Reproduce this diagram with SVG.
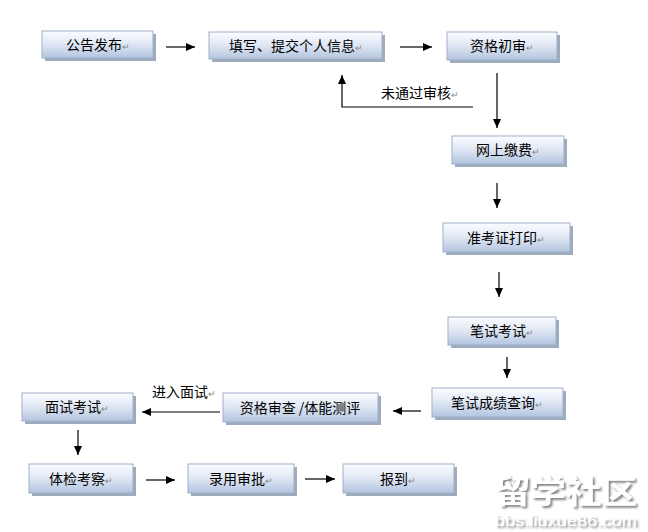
<svg xmlns="http://www.w3.org/2000/svg" width="648" height="532" viewBox="0 0 648 532">
<defs>
<linearGradient id="g" x1="0" y1="0" x2="0" y2="1">
<stop offset="0" stop-color="#fbfcfe"/>
<stop offset="0.45" stop-color="#e2e9f5"/>
<stop offset="1" stop-color="#b3c4df"/>
</linearGradient>
<marker id="ah" markerUnits="userSpaceOnUse" markerWidth="10" markerHeight="8" refX="9" refY="4" orient="auto">
<path d="M0,0 L9,4 L0,8 Z" fill="#000"/>
</marker>
<filter id="ws" x="-10%" y="-20%" width="130%" height="150%">
<feDropShadow dx="2" dy="2" stdDeviation="1.2" flood-color="#666" flood-opacity="0.8"/>
</filter>
</defs>
<style>
.sh{fill:#9eabbd}
.bx{fill:url(#g);stroke:#9fb0c9;stroke-width:1}
.t{font-family:"Noto Sans CJK SC","Liberation Sans",sans-serif;font-size:14px;fill:#000;text-anchor:middle}
.l{font-family:"Noto Sans CJK SC","Liberation Sans",sans-serif;font-size:14px;fill:#000}
.m{font-size:9px;fill:#888}
.c{fill:none;stroke:#000;stroke-width:1.2}
.w{fill:#fff;filter:url(#ws)}
</style>
<rect width="648" height="532" fill="#fff"/>

<g id="n1"><rect class="sh" x="45" y="34" width="111" height="27"/><rect class="bx" x="42" y="31" width="111" height="27"/><text class="t" x="98" y="50">公告发布<tspan class="m">↵</tspan></text></g>
<g id="n2"><rect class="sh" x="212" y="35" width="173" height="27"/><rect class="bx" x="209" y="32" width="173" height="27"/><text class="t" x="296" y="51">填写、提交个人信息<tspan class="m">↵</tspan></text></g>
<g id="n3"><rect class="sh" x="450" y="35" width="110" height="28"/><rect class="bx" x="447" y="32" width="110" height="28"/><text class="t" x="502" y="51">资格初审<tspan class="m">↵</tspan></text></g>
<g id="n4"><rect class="sh" x="455" y="139" width="112" height="28"/><rect class="bx" x="452" y="136" width="112" height="28"/><text class="t" x="508" y="155">网上缴费<tspan class="m">↵</tspan></text></g>
<g id="n5"><rect class="sh" x="446" y="226" width="127" height="29"/><rect class="bx" x="443" y="223" width="127" height="29"/><text class="t" x="506" y="243">准考证打印<tspan class="m">↵</tspan></text></g>
<g id="n6"><rect class="sh" x="451" y="320" width="108" height="28"/><rect class="bx" x="448" y="317" width="108" height="28"/><text class="t" x="502" y="336">笔试考试<tspan class="m">↵</tspan></text></g>
<g id="n7"><rect class="sh" x="435" y="391" width="131" height="29"/><rect class="bx" x="432" y="388" width="131" height="29"/><text class="t" x="497" y="408">笔试成绩查询<tspan class="m">↵</tspan></text></g>
<g id="n8"><rect class="sh" x="226" y="396" width="155" height="29"/><rect class="bx" x="223" y="393" width="155" height="29"/><text class="t" x="300" y="413">资格审查 /体能测评</text></g>
<g id="n9"><rect class="sh" x="25" y="396" width="111" height="28"/><rect class="bx" x="22" y="393" width="111" height="28"/><text class="t" x="77" y="412">面试考试<tspan class="m">↵</tspan></text></g>
<g id="n10"><rect class="sh" x="32" y="467" width="104" height="29"/><rect class="bx" x="29" y="464" width="104" height="29"/><text class="t" x="81" y="484">体检考察<tspan class="m">↵</tspan></text></g>
<g id="n11"><rect class="sh" x="191" y="467" width="106" height="29"/><rect class="bx" x="188" y="464" width="106" height="29"/><text class="t" x="241" y="484">录用审批<tspan class="m">↵</tspan></text></g>
<g id="n12"><rect class="sh" x="346" y="467" width="111" height="29"/><rect class="bx" x="343" y="464" width="111" height="29"/><text class="t" x="398" y="484">报到<tspan class="m">↵</tspan></text></g>

<g id="connectors">
<line class="c" x1="166" y1="47" x2="195" y2="47" marker-end="url(#ah)"/>
<line class="c" x1="400" y1="47" x2="432" y2="47" marker-end="url(#ah)"/>
<line class="c" x1="497" y1="73" x2="497" y2="128" marker-end="url(#ah)"/>
<polyline class="c" points="473,107 342,107 342,75" stroke="#333" marker-end="url(#ah)"/>
<line class="c" x1="497" y1="183" x2="497" y2="208" marker-end="url(#ah)"/>
<line class="c" x1="499" y1="272" x2="499" y2="297" marker-end="url(#ah)"/>
<line class="c" x1="507" y1="357" x2="507" y2="378" marker-end="url(#ah)"/>
<line class="c" x1="421" y1="411" x2="393" y2="411" marker-end="url(#ah)"/>
<line class="c" x1="220" y1="412" x2="142" y2="412" marker-end="url(#ah)"/>
<line class="c" x1="78" y1="430" x2="78" y2="455" marker-end="url(#ah)"/>
<line class="c" x1="146" y1="480" x2="175" y2="480" marker-end="url(#ah)"/>
<line class="c" x1="305" y1="479" x2="335" y2="479" marker-end="url(#ah)"/>
<text class="l" x="381" y="98">未通过审核<tspan class="m">↵</tspan></text>
<text class="l" x="152" y="397">进入面试<tspan class="m">↵</tspan></text>
</g>

<g id="watermark">
<text class="w" x="495" y="503" font-family="Noto Sans CJK SC,sans-serif" font-size="32" font-weight="bold" textLength="142" lengthAdjust="spacingAndGlyphs">留学社区</text>
<text class="w" x="495" y="526" font-family="Liberation Sans,sans-serif" font-size="15" textLength="142" lengthAdjust="spacingAndGlyphs">bbs.liuxue86.com</text>
</g>
</svg>
